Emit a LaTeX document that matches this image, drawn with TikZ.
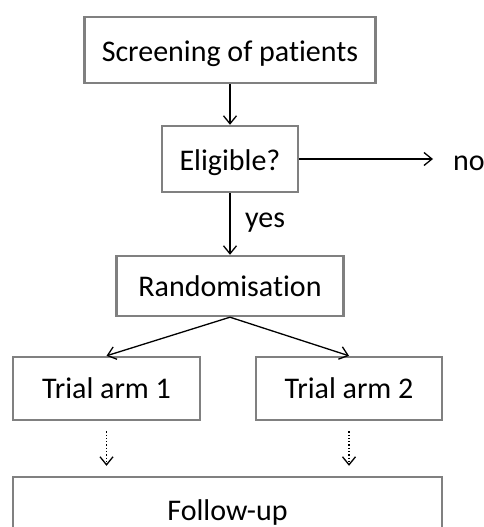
\documentclass[tikz,border=0pt]{standalone}
\usepackage{fontspec}
\setmainfont{Carlito}[Ligatures=NoCommon]
\usetikzlibrary{arrows.meta}
\definecolor{boxgray}{HTML}{808080}
\begin{document}
\begin{tikzpicture}[x=1pt,y=-1pt,
  font=\fontsize{30}{36}\selectfont,
  box/.style={draw=boxgray,line width=2.4pt,fill=white,inner sep=0pt,anchor=center,text height=20pt,text depth=0pt},
  lbl/.style={inner sep=0pt,anchor=base west},
  arr/.style={draw=black,line width=1.3pt,-{Straight Barb[length=8pt,width=13pt,line width=1.3pt]}},
  dotarr/.style={arr,dotted,shorten <=10pt,shorten >=10pt}
]
\useasboundingbox (0,0) rectangle (484,527);
\clip (0,0) rectangle (484,527);
\fill[white] (0,0) rectangle (484,527);
\node[box,minimum width=291pt,minimum height=66pt,text height=22pt] (scr) at (230,50) {Screening of patients};
\node[box,minimum width=136pt,minimum height=66pt,text height=22pt] (elig) at (230,159) {Eligible?};
\node[box,minimum width=227pt,minimum height=60pt] (rand) at (230,286) {Randomisation};
\node[box,minimum width=187pt,minimum height=63pt] (t1) at (106.5,388.5) {Trial arm 1};
\node[box,minimum width=186pt,minimum height=63pt] (t2) at (349,388.5) {Trial arm 2};
\node[box,minimum width=429pt,minimum height=66pt] (fu) at (227.5,510) {Follow-up};
\node[lbl] (no) at (453,170) {no};
\draw[arr] (scr) -- (elig);
\draw[arr,shorten >=20pt] (elig) -- (elig -| no.west);
\draw[arr] (elig) -- (rand);
\node[lbl] (yes) at (245,227) {yes};
\draw[arr] (rand.south) -- (t1.north);
\draw[arr] (rand.south) -- (t2.north);
\draw[dotarr] (t1.south) -- (t1.south |- fu.north);
\draw[dotarr] (t2.south) -- (t2.south |- fu.north);
\end{tikzpicture}
\end{document}
